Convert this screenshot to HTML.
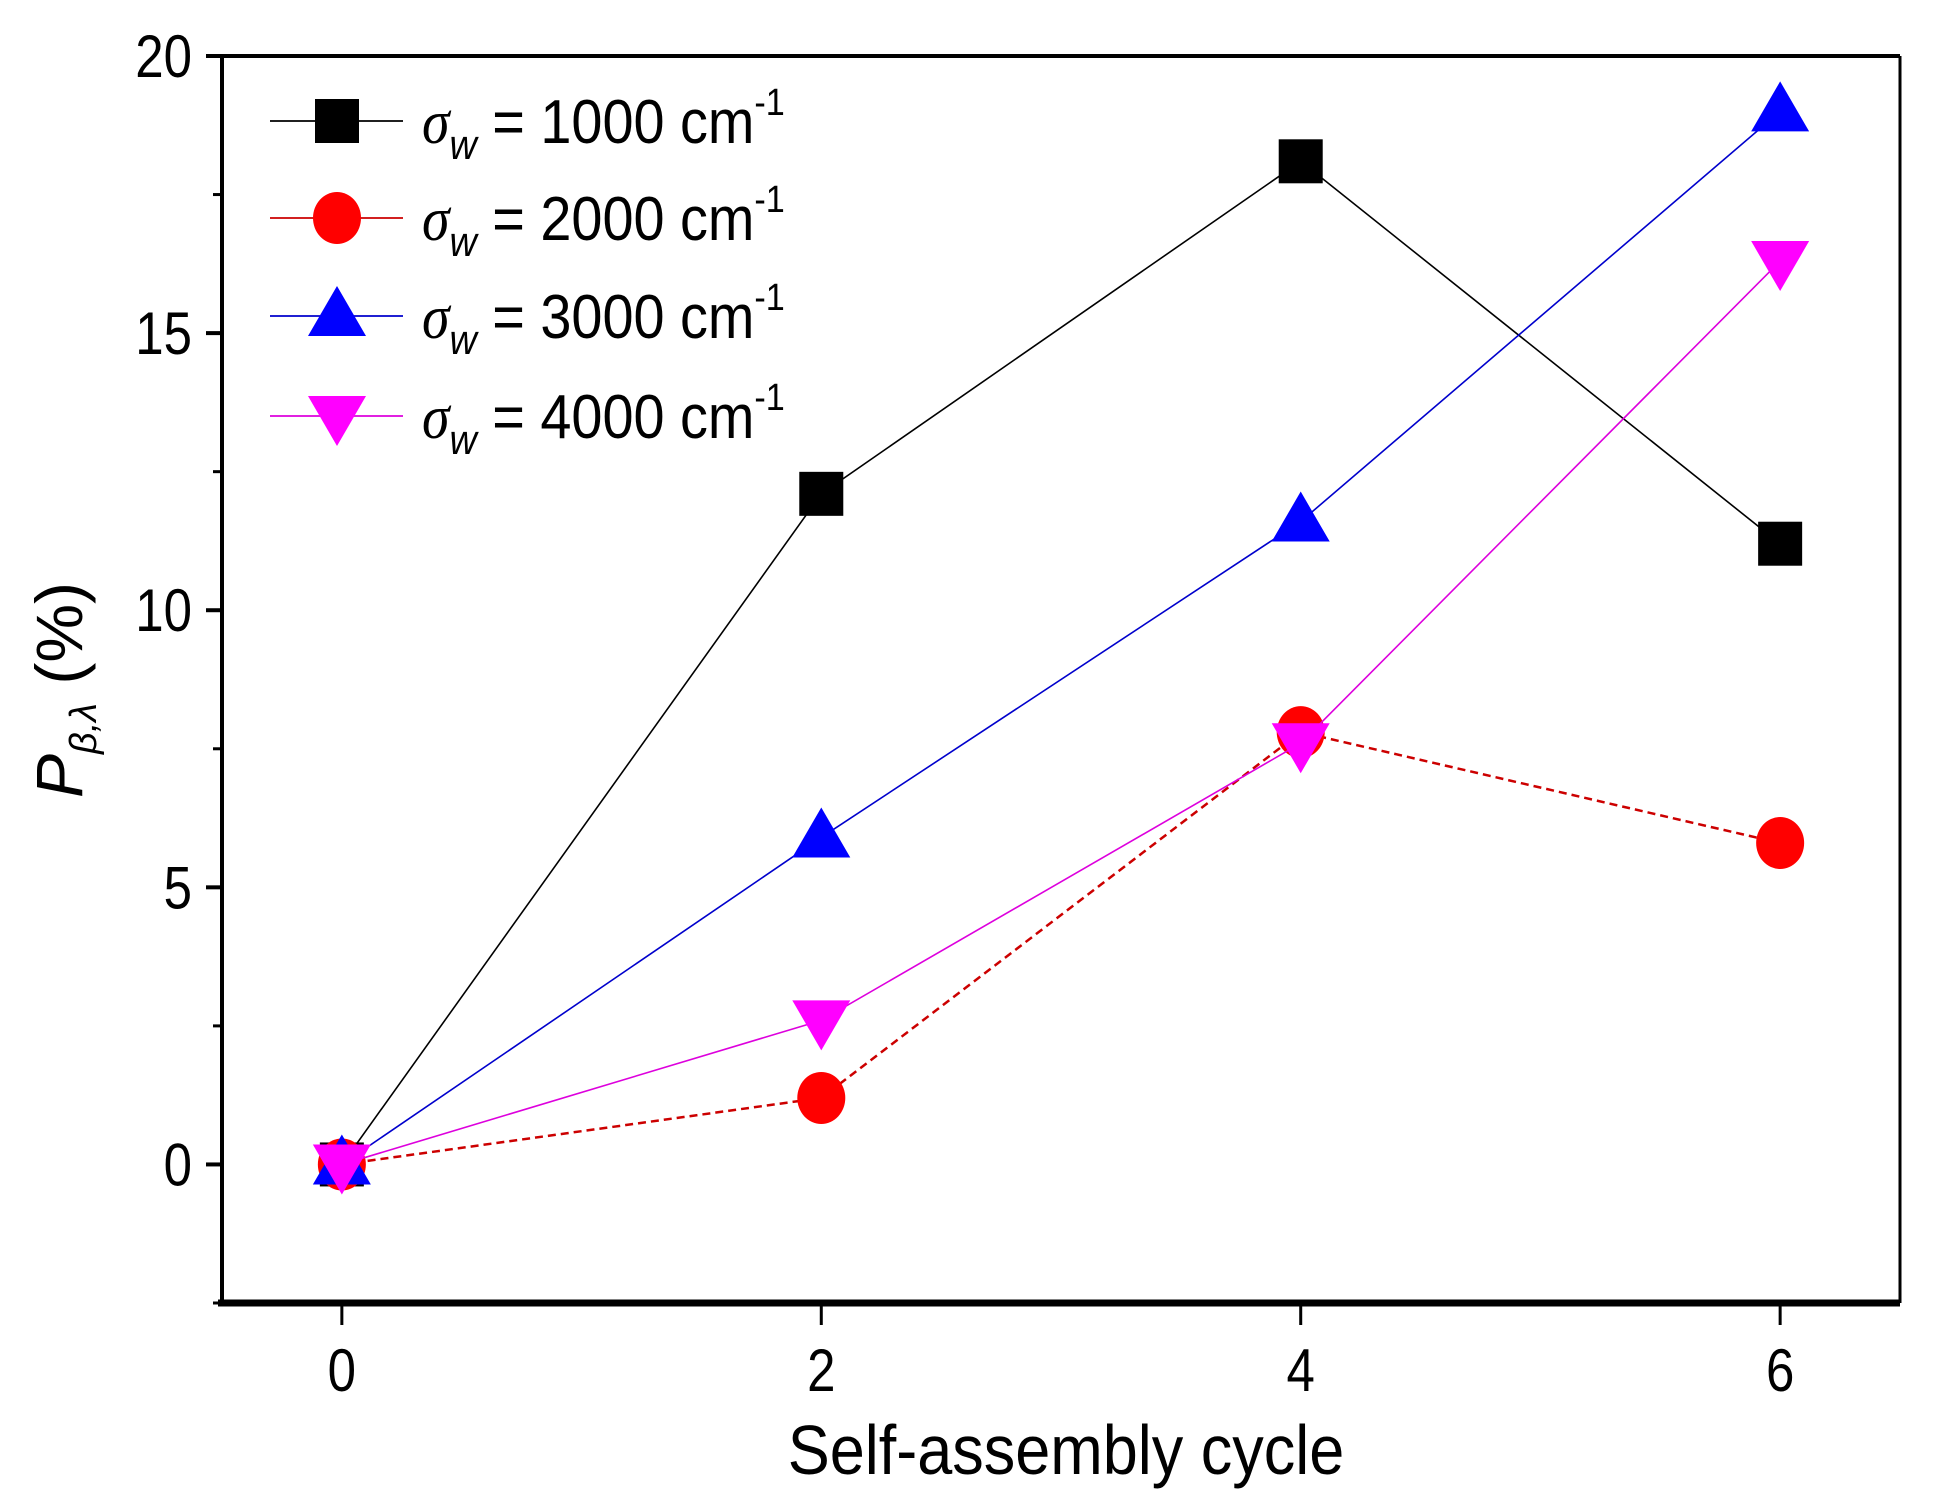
<!DOCTYPE html>
<html><head><meta charset="utf-8"><style>
html,body{margin:0;padding:0;background:#fff;}
svg{display:block;font-family:"Liberation Sans",Arial,sans-serif;}
</style></head><body>
<svg id="chart" width="1948" height="1506" viewBox="0 0 1948 1506" xmlns="http://www.w3.org/2000/svg"></svg>
<script>
const categories = [0, 2, 4, 6];
const s1000 = [0, 12.1, 18.1, 11.2];
const s2000 = [0, 1.2, 7.8, 5.8];
const s3000 = [0, 5.9, 11.6, 19.0];
const s4000 = [0, 2.6, 7.6, 16.3];
const yTicks = [0, 5, 10, 15, 20];
const yMinor = [-2.5, 2.5, 7.5, 12.5, 17.5];
const xTicks = [0, 2, 4, 6];
const legendLabels = ["1000", "2000", "3000", "4000"];

const NS = "http://www.w3.org/2000/svg";
const svg = document.getElementById('chart');
const L = 222, R = 1900, T = 56, B = 1303;
const xMin = -0.5, xMax = 6.5, yMin = -2.5, yMax = 20;
const xs = v => L + (v - xMin) / (xMax - xMin) * (R - L);
const ys = v => B - (v - yMin) / (yMax - yMin) * (B - T);
function el(tag, attrs, parent) {
  const e = document.createElementNS(NS, tag);
  for (const k in attrs) e.setAttribute(k, attrs[k]);
  (parent || svg).appendChild(e);
  return e;
}
const frame = el('g', {});


el('line', {x1: L, y1: T, x2: R, y2: T, stroke: '#000', 'stroke-width': 4}, frame);
el('line', {x1: R, y1: T, x2: R, y2: B, stroke: '#000', 'stroke-width': 3}, frame);
el('line', {x1: L, y1: T, x2: L, y2: B, stroke: '#000', 'stroke-width': 4}, frame);
el('line', {x1: L - 4, y1: B, x2: R, y2: B, stroke: '#000', 'stroke-width': 7}, frame);

yTicks.forEach(v => {
  const t = el('line', {x1: L - 16, y1: ys(v), x2: L, y2: ys(v), stroke: '#000', 'stroke-width': 4});
  
  
  const lb = el('text', {x: 0, y: 0, 'text-anchor': 'end', 'font-size': 60, transform: `translate(${L - 30},${ys(v) + 21}) scale(0.85,1)`});
  lb.textContent = v;
  
  
});
yMinor.forEach(v => {
  const t = el('line', {x1: L - 9, y1: ys(v), x2: L, y2: ys(v), stroke: '#000', 'stroke-width': 3});
  
  
});
xTicks.forEach(v => {
  const t = el('line', {x1: xs(v), y1: B, x2: xs(v), y2: B + 22, stroke: '#000', 'stroke-width': 3});
  
  
  const lb = el('text', {x: 0, y: 0, 'text-anchor': 'middle', 'font-size': 60, transform: `translate(${xs(v)},${B + 88}) scale(0.85,1)`});
  lb.textContent = v;
  
  
});
const xt = el('text', {x: 0, y: 0, 'text-anchor': 'middle', 'font-size': 70, transform: 'translate(1066,1474) scale(0.9,1)'});
xt.textContent = 'Self-assembly cycle';


const yt = el('text', {x: 0, y: 0, 'text-anchor': 'middle', 'font-size': 66, transform: 'translate(82,690) rotate(-90)'});
yt.innerHTML = '<tspan font-style="italic">P</tspan><tspan font-style="italic" font-size="38" dy="14">β,λ</tspan><tspan dy="-14"> (%)</tspan>';



const seriesList = [
  {name: 'series-1000', data: s1000, color: '#000', line: '#000', dash: '', marker: 'square'},
  {name: 'series-2000', data: s2000, color: '#ff0000', line: '#cc0000', dash: '8,5', marker: 'circle'},
  {name: 'series-3000', data: s3000, color: '#0000ff', line: '#0000cc', dash: '', marker: 'tri-up'},
  {name: 'series-4000', data: s4000, color: '#ff00ff', line: '#dd00dd', dash: '', marker: 'tri-down'}
];
function marker(type, cx, cy, color, parent) {
  let m;
  if (type === 'square') m = el('rect', {x: cx - 22, y: cy - 22, width: 44, height: 44, fill: color}, parent);
  else if (type === 'circle') m = el('ellipse', {cx: cx, cy: cy, rx: 24, ry: 26, fill: color}, parent);
  else if (type === 'tri-up') m = el('polygon', {points: `${cx},${cy-30} ${cx+29},${cy+20} ${cx-29},${cy+20}`, fill: color}, parent);
  else m = el('polygon', {points: `${cx},${cy+30} ${cx+29},${cy-20} ${cx-29},${cy-20}`, fill: color}, parent);
  return m;
}
seriesList.forEach(s => {
  const g = el('g', {});
  
  
  const pts = categories.map((c, i) => xs(c) + ',' + ys(s.data[i])).join(' ');
  const pl = el('polyline', {points: pts, fill: 'none', stroke: s.line, 'stroke-width': s.dash ? 2.5 : 1.6, 'stroke-dasharray': s.dash}, g);
  
  
  categories.forEach((c, i) => {
    const m = marker(s.marker, xs(c), ys(s.data[i]), s.color, g);
    
    
  });
});
const leg = el('g', {});


const rowsY = [121, 218, 316, 416];
seriesList.forEach((s, i) => {
  const y = rowsY[i];
  const e = el('g', {}, leg);
  
  
  el('line', {x1: 270, y1: y, x2: 403, y2: y, stroke: s.line, 'stroke-width': 1.8}, e);
  marker(s.marker, 337, y, s.color, e);
  const tx = el('text', {x: 0, y: 0, 'font-size': 62, transform: `translate(422,${y + 22}) scale(0.9,1)`}, e);
  tx.innerHTML = '<tspan font-style="italic" font-family="Liberation Serif, serif">σ</tspan><tspan font-style="italic" font-size="42" dy="16">w</tspan><tspan dy="-16"> = ' + legendLabels[i] + ' cm</tspan><tspan font-size="38" dy="-28">-1</tspan>';
});
</script>
</body></html>
